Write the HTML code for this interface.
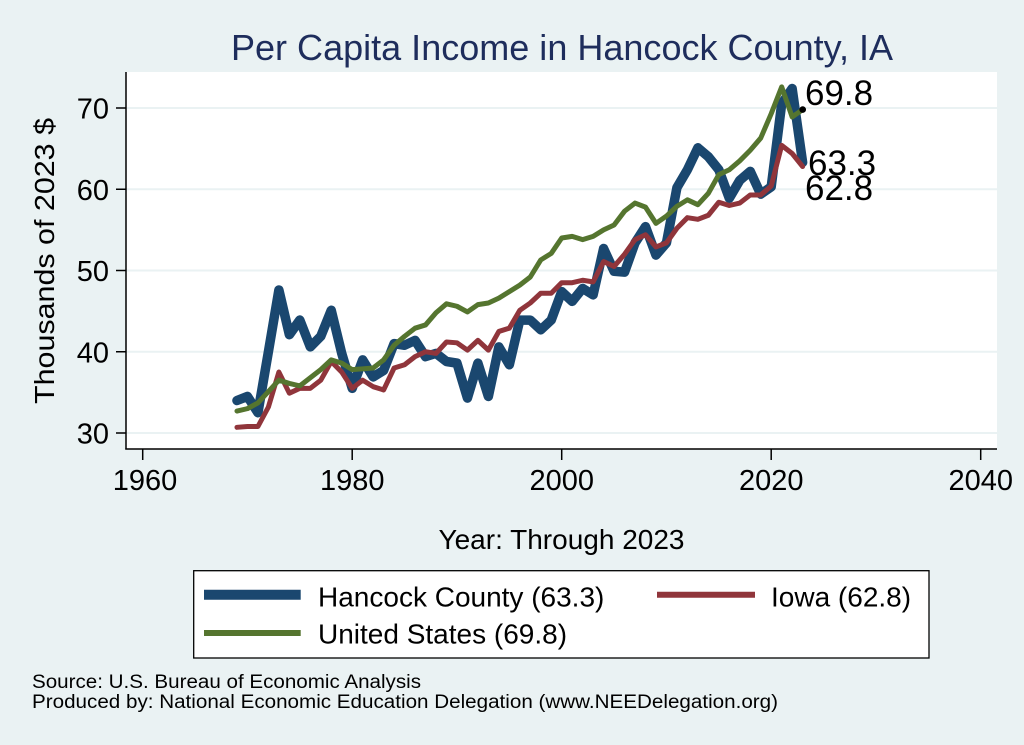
<!DOCTYPE html>
<html>
<head>
<meta charset="utf-8">
<style>
  html, body { margin: 0; padding: 0; background: #eaf2f3; }
  svg { display: block; }
  text { font-family: "Liberation Sans", Arial, sans-serif; }
</style>
</head>
<body>
<svg width="1024" height="745" viewBox="0 0 1024 745" xmlns="http://www.w3.org/2000/svg">
  <rect x="0" y="0" width="1024" height="745" fill="#eaf2f3"/>
  <!-- plot region -->
  <rect x="126" y="72" width="871" height="377" fill="#ffffff"/>
  <!-- gridlines -->
  <g stroke="#eaf2f3" stroke-width="2">
    <line x1="126" y1="108" x2="997" y2="108"/>
    <line x1="126" y1="189.25" x2="997" y2="189.25"/>
    <line x1="126" y1="270.5" x2="997" y2="270.5"/>
    <line x1="126" y1="351.75" x2="997" y2="351.75"/>
    <line x1="126" y1="433" x2="997" y2="433"/>
  </g>
  <!-- axes -->
  <g stroke="#000" stroke-width="1.5" fill="none">
    <line x1="126" y1="72" x2="126" y2="449.5"/>
    <line x1="125.3" y1="449" x2="997" y2="449"/>
    <line x1="116" y1="108" x2="126" y2="108"/>
    <line x1="116" y1="189.25" x2="126" y2="189.25"/>
    <line x1="116" y1="270.5" x2="126" y2="270.5"/>
    <line x1="116" y1="351.75" x2="126" y2="351.75"/>
    <line x1="116" y1="433" x2="126" y2="433"/>
    <line x1="142.7" y1="449" x2="142.7" y2="460"/>
    <line x1="352.2" y1="449" x2="352.2" y2="460"/>
    <line x1="561.7" y1="449" x2="561.7" y2="460"/>
    <line x1="771.2" y1="449" x2="771.2" y2="460"/>
    <line x1="980.7" y1="449" x2="980.7" y2="460"/>
  </g>
  <!-- y tick labels -->
  <g font-size="29" text-anchor="end" fill="#000">
    <text x="109" y="118.5">70</text>
    <text x="109" y="199.75">60</text>
    <text x="109" y="281">50</text>
    <text x="109" y="362.25">40</text>
    <text x="109" y="443.5">30</text>
  </g>
  <!-- x tick labels -->
  <g font-size="29" text-anchor="middle" fill="#000">
    <text x="145" y="490">1960</text>
    <text x="352.2" y="490">1980</text>
    <text x="561.7" y="490">2000</text>
    <text x="771.2" y="490">2020</text>
    <text x="980.7" y="490">2040</text>
  </g>
  <!-- axis titles -->
  <text x="561.5" y="549" font-size="28" text-anchor="middle" fill="#000">Year: Through 2023</text>
  <text transform="translate(54,261) rotate(-90)" font-size="28" text-anchor="middle" fill="#000" textLength="286" lengthAdjust="spacingAndGlyphs">Thousands of 2023 $</text>
  <!-- title -->
  <text x="562" y="60" font-size="36" text-anchor="middle" fill="#1e2d5c" textLength="662" lengthAdjust="spacingAndGlyphs">Per Capita Income in Hancock County, IA</text>

  <!-- series -->
  <g transform="matrix(10.475 0 0 -8.125 142.7 676.75)" fill="none" stroke-linejoin="round" stroke-linecap="round">
    <polyline vector-effect="non-scaling-stroke" stroke="#1a476f" stroke-width="9.5"
      points="9,34.0 10,34.5 11,32.5 12,40.0 13,47.6 14,42.1 15,43.9 16,40.6 17,41.9 18,45.1 19,39.8 20,35.5 21,39.0 22,36.9 23,37.7 24,41.0 25,40.8 26,41.4 27,39.4 28,39.8 29,38.8 30,38.6 31,34.3 32,38.6 33,34.5 34,40.6 35,38.4 36,43.9 37,43.9 38,42.7 39,43.9 40,47.4 41,46.2 42,47.8 43,47.0 44,52.7 45,49.9 46,49.8 47,53.4 48,55.4 49,51.9 50,53.4 51,60.2 52,62.4 53,65.1 54,64.0 55,62.4 56,58.9 57,61.1 58,62.2 59,59.4 60,60.3 61,70.5 62,72.4 63,63.3"/>
    <polyline vector-effect="non-scaling-stroke" stroke="#90353b" stroke-width="5"
      points="9,30.7 10,30.8 11,30.8 12,33.2 13,37.5 14,34.9 15,35.5 16,35.5 17,36.5 18,38.8 19,37.5 20,35.5 21,36.5 22,35.7 23,35.3 24,38.0 25,38.4 26,39.4 27,40.0 28,39.8 29,41.2 30,41.1 31,40.2 32,41.4 33,40.2 34,42.5 35,42.9 36,45.1 37,46.0 38,47.2 39,47.2 40,48.5 41,48.5 42,48.8 43,48.6 44,51.1 45,50.5 46,52.0 47,53.8 48,54.4 49,52.9 50,53.4 51,55.2 52,56.5 53,56.3 54,56.8 55,58.4 56,58.0 57,58.3 58,59.3 59,59.3 60,60.4 61,65.4 62,64.4 63,62.8"/>
    <polyline vector-effect="non-scaling-stroke" stroke="#55752f" stroke-width="5"
      points="9,32.7 10,33.0 11,33.7 12,35.1 13,36.5 14,36.1 15,35.8 16,36.8 17,37.8 18,39.0 19,38.6 20,37.8 21,37.9 22,38.0 23,39.0 24,40.8 25,41.9 26,42.9 27,43.3 28,44.8 29,45.9 30,45.6 31,44.9 32,45.8 33,46.0 34,46.6 35,47.4 36,48.2 37,49.2 38,51.3 39,52.1 40,54.0 41,54.2 42,53.8 43,54.2 44,55.0 45,55.6 46,57.3 47,58.3 48,57.8 49,55.8 50,56.7 51,57.9 52,58.7 53,58.1 54,59.5 55,61.8 56,62.4 57,63.5 58,64.8 59,66.3 60,69.3 61,72.6 62,68.9 63,69.8"/>
  </g>
  <!-- end marker -->
  <circle cx="802.7" cy="109.6" r="3.3" fill="#000"/>
  <!-- data labels -->
  <g font-size="35" fill="#000">
    <text x="805" y="105">69.8</text>
    <text x="808" y="175">63.3</text>
    <text x="805" y="200">62.8</text>
  </g>

  <!-- legend -->
  <rect x="193.7" y="570.7" width="735.3" height="87.3" fill="#ffffff" stroke="#000" stroke-width="1.3"/>
  <line x1="204" y1="594.7" x2="300.7" y2="594.7" stroke="#1a476f" stroke-width="10"/>
  <line x1="657" y1="594.7" x2="755" y2="594.7" stroke="#90353b" stroke-width="6"/>
  <line x1="204" y1="633" x2="300.7" y2="633" stroke="#55752f" stroke-width="6"/>
  <g font-size="28" fill="#000">
    <text x="318" y="606.7">Hancock County (63.3)</text>
    <text x="771" y="606.7">Iowa (62.8)</text>
    <text x="318" y="643.3">United States (69.8)</text>
  </g>

  <!-- footer -->
  <g font-size="19" fill="#000">
    <text x="32" y="688" textLength="389" lengthAdjust="spacingAndGlyphs">Source: U.S. Bureau of Economic Analysis</text>
    <text x="32" y="708" textLength="746" lengthAdjust="spacingAndGlyphs">Produced by: National Economic Education Delegation (www.NEEDelegation.org)</text>
  </g>
</svg>
</body>
</html>
